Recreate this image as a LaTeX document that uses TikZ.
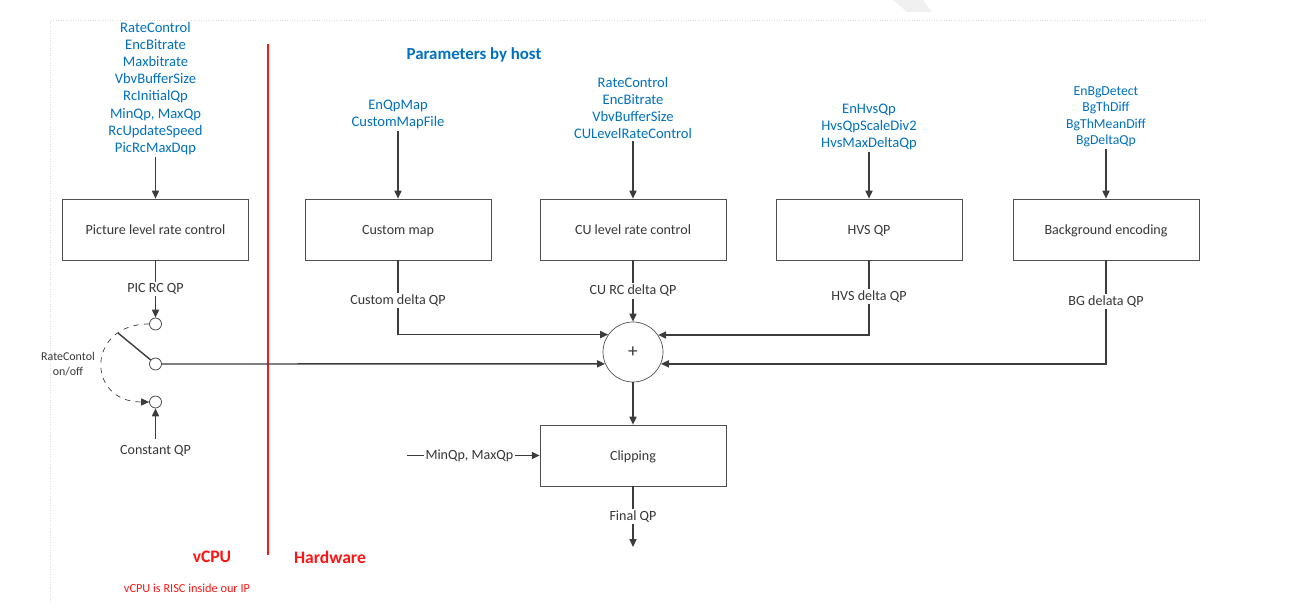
\documentclass[tikz,border=0pt]{standalone}
\usepackage{fontspec}
\setmainfont{Carlito}
\usetikzlibrary{positioning, arrows.meta}
\definecolor{HostBlue}{RGB}{0, 112, 192}
\definecolor{CpuRed}{RGB}{255, 20, 20}
\definecolor{LineGray}{RGB}{60, 60, 60}
\definecolor{TextGray}{RGB}{55, 55, 55}

\tikzset{
  blockbox/.style={draw=LineGray!90, minimum width=3.72cm, minimum height=1.22cm,
    font=\fontsize{8}{9}\selectfont, text=TextGray, text height=1.6ex, text depth=0.4ex},
  params/.style={text=HostBlue, align=center, inner sep=1pt,
    font=\fontsize{8.3}{9.8}\selectfont},
  flowlbl/.style={fill=white, inner sep=1pt, text=TextGray,
    font=\fontsize{8}{9}\selectfont},
  swcirc/.style={circle, draw=LineGray, minimum size=0.24cm, inner sep=0pt},
  arr/.style={draw=LineGray, thick, -{Triangle[length=4.5pt,width=4pt]}},
  flow/.style={draw=LineGray, thick}
}

\begin{document}
\begin{tikzpicture}[x=0.02cm, y=-0.02cm]
    \useasboundingbox (0,0) rectangle (1295,614);

    % Page frame and watermark
    \fill[gray!12] (893,0) -- (923,0) -- (932,12) -- (907,12) -- cycle;
    \draw[gray!25, densely dotted] (50,602) -- (50,20) -- (1205,20);

    % vCPU / Hardware split
    \draw[CpuRed, thick] (268,44) -- (268,555);
    \node[CpuRed, font=\bfseries\fontsize{10}{12}\selectfont] at (212,557) {vCPU};
    \node[CpuRed, font=\bfseries\fontsize{10}{12}\selectfont] at (330,557) {Hardware};
    \node[CpuRed, font=\fontsize{7}{9}\selectfont] at (187,588) {vCPU is RISC inside our IP};
    \node[HostBlue, font=\bfseries\fontsize{9.6}{12}\selectfont] at (474,55) {Parameters by host};

    % Host parameters
    \node[params] (picpar) at (155.5,88.5) {RateControl\\EncBitrate\\Maxbitrate\\VbvBufferSize\\RcInitialQp\\MinQp, MaxQp\\RcUpdateSpeed\\PicRcMaxDqp};
    \node[params] (cmpar) at (398,114.5) {EnQpMap\\CustomMapFile};
    \node[params] (cupar) at (633,108) {RateControl\\EncBitrate\\VbvBufferSize\\CULevelRateControl};
    \node[params] (hvspar) at (869,127) {EnHvsQp\\HvsQpScaleDiv2\\HvsMaxDeltaQp};
    \node[params, font=\fontsize{7.8}{9.4}\selectfont] (bgpar) at (1106,117) {EnBgDetect\\BgThDiff\\BgThMeanDiff\\BgDeltaQp};

    % Blocks
    \node[blockbox] (pic) at (155.5,229.5) {Picture level rate control};
    \node[blockbox] (cm) at (398,229.5) {Custom map};
    \node[blockbox] (cu) at (633,229.5) {CU level rate control};
    \node[blockbox] (hvs) at (869,229.5) {HVS QP};
    \node[blockbox] (bg) at (1106,229.5) {Background encoding};
    \node[blockbox] (clip) at (633,455.5) {Clipping};
    \node[circle, draw=LineGray!90, minimum size=1.2cm, inner sep=0pt,
          text=TextGray, font=\fontsize{11}{12}\selectfont] (sum) at (633,352) {+};

    % Switch
    \node[swcirc] (swt) at (155.5,324) {};
    \node[swcirc] (swm) at (155.5,364) {};
    \node[swcirc] (swb) at (155.5,402) {};
    \coordinate (lever) at (118,333);
    \node[text=TextGray, align=center, font=\fontsize{6.8}{8.6}\selectfont] (rcsw) at (68,364) {RateContol\\on/off};
    \node[text=TextGray, font=\fontsize{8}{9}\selectfont] (cqp) at (155.5,451) {Constant QP};

    % Parameter arrows
    \foreach \p/\b in {picpar/pic, cmpar/cm, cupar/cu, hvspar/hvs, bgpar/bg}
      \draw[arr] (\p.south) -- (\b.north);

    % QP flow
    \draw[arr] (pic.south) -- node[flowlbl] {PIC RC QP} (swt.north);
    \draw[flow] (lever) -- (swm.140);
    \draw[LineGray, dashed, -{Triangle[length=4.5pt,width=4pt]}]
      (swt.west) .. controls (86,324) and (86,402) .. (swb.west);
    \draw[arr] (cqp.north) -- (swb.south);
    \draw[arr] (swm.east) -- (sum.203.6);

    \draw[arr] (cm.south) |- node[flowlbl, pos=0.27] {Custom delta QP} (sum.145.5);
    \draw[arr] (cu.south) -- node[flowlbl] {CU RC delta QP} (sum.north);
    \draw[arr] (hvs.south) |- node[flowlbl, pos=0.24] {HVS delta QP} (sum.34.5);
    \draw[arr] (bg.south) |- node[flowlbl, pos=0.2] {BG delata QP} (sum.-23.6);

    \draw[arr] (sum.south) -- (clip.north);
    \coordinate (mmin) at (407,455.5);
    \draw[arr] (mmin) -- node[flowlbl, pos=0.47] {MinQp, MaxQp} (clip.west);
    \coordinate (qpout) at (633,547);
    \draw[arr] (clip.south) -- node[flowlbl] {Final QP} (qpout);
  \end{tikzpicture}
\end{document}
